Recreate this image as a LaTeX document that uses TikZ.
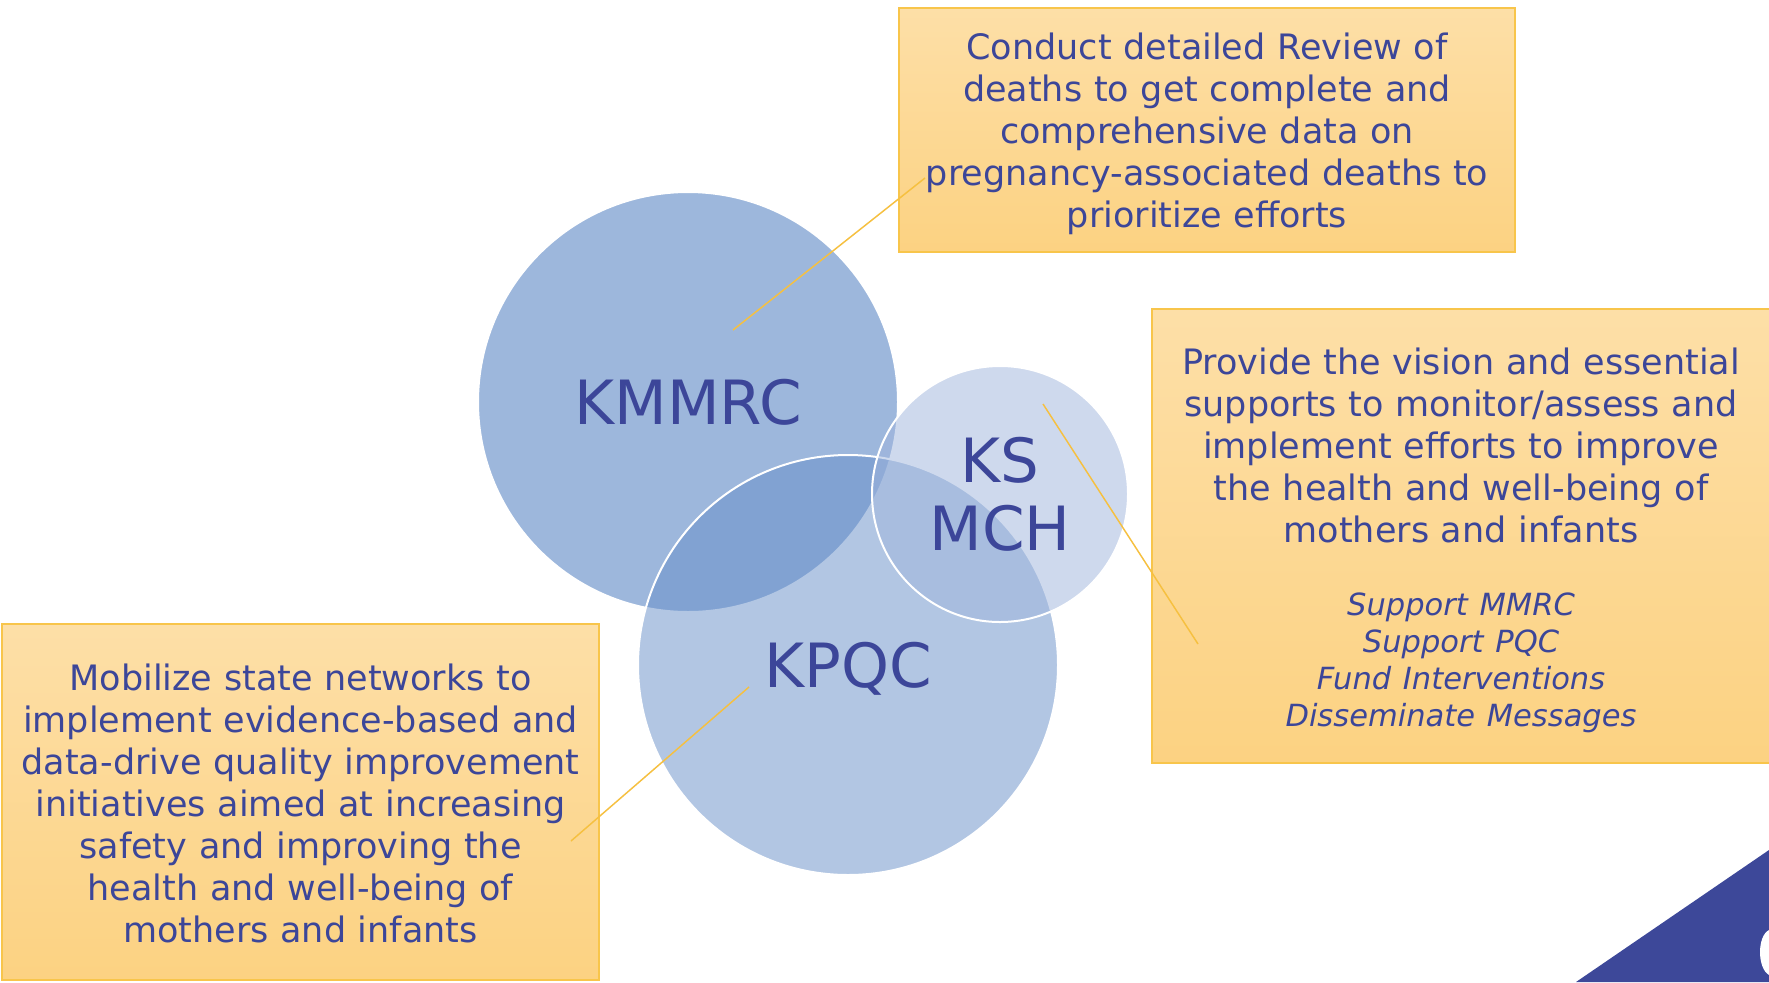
\documentclass[tikz,border=0pt]{standalone}
\usepackage{fontspec}
\setmainfont{DejaVu Sans}
\usepackage{tikz}
\setlength{\parindent}{0pt}
\tikzset{every picture/.style={line width=0.75pt}}

\definecolor{txtblue}{RGB}{60,70,153}
\definecolor{circblue}{RGB}{103,143,201}
\definecolor{ksblue}{RGB}{159,181,221}
\definecolor{boxtop}{RGB}{253,223,167}
\definecolor{boxbot}{RGB}{252,210,130}
\definecolor{boxedge}{RGB}{248,197,75}
\definecolor{leadgold}{RGB}{246,192,64}
\definecolor{cornerblue}{RGB}{61,72,153}

\tikzset{
  venn/.style={circle, draw=white, line width=1.5pt, inner sep=0pt, text=txtblue, text opacity=1, align=center, text depth=0pt, font=\fontsize{45.75}{51}\selectfont},
  infobox/.style={rectangle, draw=boxedge, line width=1.5pt, top color=boxtop, bottom color=boxbot, text=txtblue, inner sep=0pt, align=center, font=\fontsize{26.25}{31.5}\selectfont},
  leader/.style={draw=leadgold, line width=1.1pt},
}

\begin{document}
\begin{tikzpicture}[x=0.75pt,y=0.75pt,yscale=-1,xscale=1]
	%set diagram left start at 0, width 1769 and height 982
	\fill[white] (0,0) rectangle (1769,982);
	\useasboundingbox (0,0) rectangle (1769,982);
	
	%Shape: Circle [KMMRC]
	\node[venn, fill=circblue, fill opacity=0.64, minimum size=315pt] (kmmrc) at (688,402) {KMMRC};
	%Shape: Circle [KPQC]
	\node[venn, fill=circblue, fill opacity=0.5, minimum size=315pt] (kpqc) at (848,665) {KPQC};
	%Shape: Circle [KS MCH]
	\node[venn, fill=ksblue, fill opacity=0.5, minimum size=192pt] (ksmch) at (1000,494) {KS\\MCH};
	
	%Shape: Rectangle [top box]
	\node[infobox, text width=462pt, minimum height=183pt] (review) at (1207,130) {\rule{0pt}{25pt}Conduct detailed Review of\\deaths to get complete and\\comprehensive data on\\pregnancy-associated deaths to\\prioritize efforts};
	%Shape: Rectangle [right box]
	\node[infobox, text width=463.5pt, minimum height=340.5pt] (support) at (1461,536) {\rule{0pt}{26.8pt}Provide the vision and essential\\supports to monitor/assess and\\implement efforts to improve\\the health and well-being of\\mothers and infants\par\vspace{27.3pt}{\itshape\fontsize{22.9}{27.75}\selectfont Support MMRC\\Support PQC\\Fund Interventions\\Disseminate Messages\par}};
	%Shape: Rectangle [left box]
	\node[infobox, text width=447.75pt, minimum height=267pt] (mobilize) at (300.5,802) {\rule{0pt}{22pt}Mobilize state networks to\\implement evidence-based and\\data-drive quality improvement\\initiatives aimed at increasing\\safety and improving the\\health and well-being of\\mothers and infants};
	
	%Straight Lines [leaders]
	\coordinate (kmmrcPin) at (733,330);
	\coordinate (reviewPin) at (925,178);
	\coordinate (ksmchPin) at (1043,404);
	\coordinate (supportPin) at (1198,644);
	\coordinate (kpqcPin) at (749,687);
	\coordinate (mobilizePin) at (571,841);
	\draw[leader] (kmmrcPin) -- (reviewPin);
	\draw[leader] (ksmchPin) -- (supportPin);
	\draw[leader] (kpqcPin) -- (mobilizePin);
	
	%Shape: Triangle [corner]
	\fill[cornerblue] (1576,982) -- (1769,850) -- (1769,982) -- cycle;
	\fill[white] (1769,930) .. controls (1757,936) and (1757,968) .. (1769,975) -- cycle;
	
\end{tikzpicture}
\end{document}
